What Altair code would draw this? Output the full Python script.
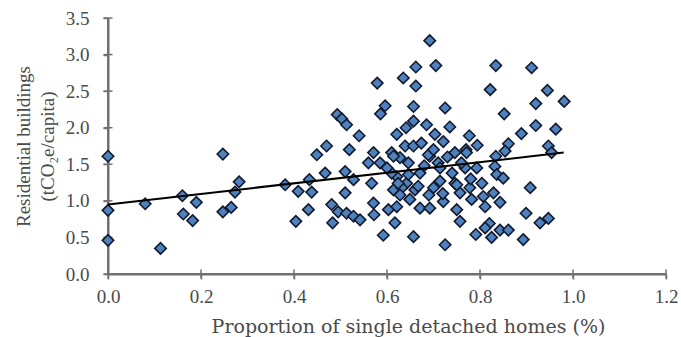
import altair as alt
import pandas as pd

# Proportion of single detached homes (fraction)
x_vals = [
    0.00, 0.00, 0.00, 0.08, 0.113, 0.16, 0.162, 0.182, 0.19, 0.247, 0.247, 0.265, 0.273, 0.282,
    0.692, 0.705, 0.662, 0.635, 0.662, 0.579, 0.596, 0.586, 0.657, 0.725, 0.493, 0.503, 0.513, 0.540,
    0.470, 0.449, 0.519, 0.571, 0.621, 0.641, 0.657, 0.685, 0.703, 0.721, 0.639, 0.657, 0.674, 0.692,
    0.610, 0.560, 0.585, 0.628, 0.646, 0.710, 0.467, 0.510, 0.381, 0.433, 0.409, 0.438, 0.528, 0.567,
    0.621, 0.642, 0.671, 0.714, 0.510, 0.614, 0.632, 0.660, 0.431, 0.404, 0.481, 0.495, 0.513, 0.528,
    0.542, 0.483, 0.571, 0.572, 0.603, 0.621, 0.649, 0.671, 0.692, 0.721, 0.617, 0.592, 0.657, 0.725,
    0.834, 0.911, 0.822, 0.945, 0.920, 0.981, 0.852, 0.735, 0.777, 0.794, 0.770, 0.746, 0.861, 0.854,
    0.889, 0.920, 0.963, 0.947, 0.954, 0.834, 0.768, 0.793, 0.832, 0.836, 0.850, 0.746, 0.804, 0.778,
    0.757, 0.829, 0.908, 0.782, 0.807, 0.843, 0.750, 0.757, 0.899, 0.929, 0.947, 0.820, 0.791, 0.825,
    0.843, 0.861, 0.893,
    0.614, 0.689, 0.714, 0.610, 0.646, 0.624, 0.667, 0.750, 0.628, 0.811, 0.811, 0.771, 0.700, 0.730,
    0.600, 0.680, 0.740, 0.700, 0.690, 0.760, 0.780, 0.720,
]
# Residential buildings emissions (tCO2e/capita)
y_vals = [
    1.61, 0.87, 0.46, 0.96, 0.35, 1.07, 0.82, 0.73, 0.98, 1.64, 0.85, 0.91, 1.12, 1.26,
    3.19, 2.85, 2.83, 2.68, 2.57, 2.61, 2.30, 2.19, 2.29, 2.27, 2.18, 2.12, 2.04, 1.89,
    1.75, 1.63, 1.70, 1.66, 1.91, 2.00, 2.09, 2.04, 1.91, 1.81, 1.75, 1.75, 1.79, 1.61,
    1.66, 1.52, 1.52, 1.59, 1.52, 1.52, 1.38, 1.40, 1.22, 1.29, 1.13, 1.12, 1.29, 1.24,
    1.33, 1.24, 1.38, 1.27, 1.11, 1.15, 1.18, 1.15, 0.88, 0.72, 0.95, 0.85, 0.83, 0.79,
    0.74, 0.70, 0.97, 0.81, 0.88, 0.92, 1.02, 0.90, 0.90, 0.99, 0.70, 0.53, 0.51, 0.40,
    2.85, 2.82, 2.52, 2.51, 2.33, 2.36, 2.19, 2.01, 1.89, 1.76, 1.70, 1.66, 1.78, 1.68,
    1.92, 2.03, 1.98, 1.75, 1.66, 1.61, 1.45, 1.45, 1.47, 1.36, 1.31, 1.24, 1.24, 1.18,
    1.11, 1.11, 1.18, 1.02, 1.06, 0.98, 0.88, 0.72, 0.83, 0.70, 0.76, 0.69, 0.54, 0.50,
    0.60, 0.60, 0.47,
    1.61, 1.63, 1.45, 1.38, 1.36, 1.24, 1.20, 1.22, 1.08, 0.92, 0.63, 1.66, 1.70, 1.60,
    1.45, 1.48, 1.38, 1.18, 1.08, 1.52, 1.30, 1.10,
]

# Linear trend line endpoints
trend_x = [0.0, 0.98]
trend_y = [0.95, 1.66]

x_ticks = [0.0, 0.2, 0.4, 0.6, 0.8, 1.0, 1.2]
y_ticks = [0.0, 0.5, 1.0, 1.5, 2.0, 2.5, 3.0, 3.5]

pts = pd.DataFrame({"x": x_vals, "y": y_vals})
trend = pd.DataFrame({"x": trend_x, "y": trend_y})
# axis lines and cross tick marks (built from the tick lists)
x_axis_line = pd.DataFrame({"x": [x_ticks[0]], "x2": [x_ticks[-1]], "y": [y_ticks[0]]})
y_axis_line = pd.DataFrame({"x": [x_ticks[0]], "y": [y_ticks[0]], "y2": [y_ticks[-1]]})
x_tick_df = pd.DataFrame({"x": x_ticks, "y": [y_ticks[0]] * len(x_ticks)})
y_tick_df = pd.DataFrame({"x": [x_ticks[0]] * len(y_ticks), "y": y_ticks})

FONT = "Liberation Serif"
TXT = "#4a4a4a"
AX = "#707070"

common_axis = dict(
    grid=False, domain=True, domainColor=AX, domainWidth=2,
    ticks=True, tickColor=AX, tickWidth=1.5, tickSize=5,
    labelFont=FONT, labelFontSize=19, labelColor=TXT,
    labelFlush=False, labelOverlap=False, labelBound=False,
    titleColor=TXT, titleFontWeight="normal",
)

x_scale = alt.Scale(domain=[0, 1.2], nice=False, zero=False)
y_scale = alt.Scale(domain=[0, 3.5], nice=False, zero=False)

x_axis = alt.Axis(
    values=x_ticks, format=".1f", title="Proportion of single detached homes (%)",
    labelPadding=8, titleFont="DejaVu Serif", titleFontSize=19,
    titlePadding=11, titleX=300, titleAnchor="middle", **common_axis,
)
y_axis = alt.Axis(
    values=y_ticks, format=".1f", title=["Residential buildings", "(tCO₂e/capita)"],
    labelPadding=14, titleFont=FONT, titleFontSize=19,
    titlePadding=8, titleLineHeight=24, **common_axis,
)


def X(field="x"):
    return alt.X(f"{field}:Q", scale=x_scale, axis=x_axis)


def Y(field="y"):
    return alt.Y(f"{field}:Q", scale=y_scale, axis=y_axis)


xline = alt.Chart(x_axis_line).mark_rule(stroke=AX, strokeWidth=2, strokeOpacity=1).encode(
    x=X(), x2="x2:Q", y=Y()
)
yline = alt.Chart(y_axis_line).mark_rule(stroke=AX, strokeWidth=2, strokeOpacity=1).encode(
    x=X(), y=Y(), y2="y2:Q"
)
xticks = alt.Chart(x_tick_df).mark_tick(
    orient="vertical", size=9, thickness=1.5, color=AX, opacity=1
).encode(x=X(), y=Y())
yticks = alt.Chart(y_tick_df).mark_tick(
    orient="horizontal", size=9, thickness=1.5, color=AX, opacity=1
).encode(x=X(), y=Y())

points = alt.Chart(pts).mark_point(
    shape="diamond", filled=True, size=130, fill="#4F81BD", fillOpacity=1,
    stroke="#111a2e", strokeWidth=1.6, opacity=1,
).encode(x=X(), y=Y())

line = alt.Chart(trend).mark_line(color="black", strokeWidth=2).encode(x=X(), y=Y())

chart = alt.layer(xline, yline, xticks, yticks, points, line).properties(
    width=558, height=256,
    autosize=alt.AutoSizeParams(type="none"),
    padding={"left": 108, "top": 18, "right": 15, "bottom": 63},
    view=alt.ViewBackground(stroke="transparent"),
)

chart.save("out.html", embed_options={"renderer": "svg", "actions": False})
